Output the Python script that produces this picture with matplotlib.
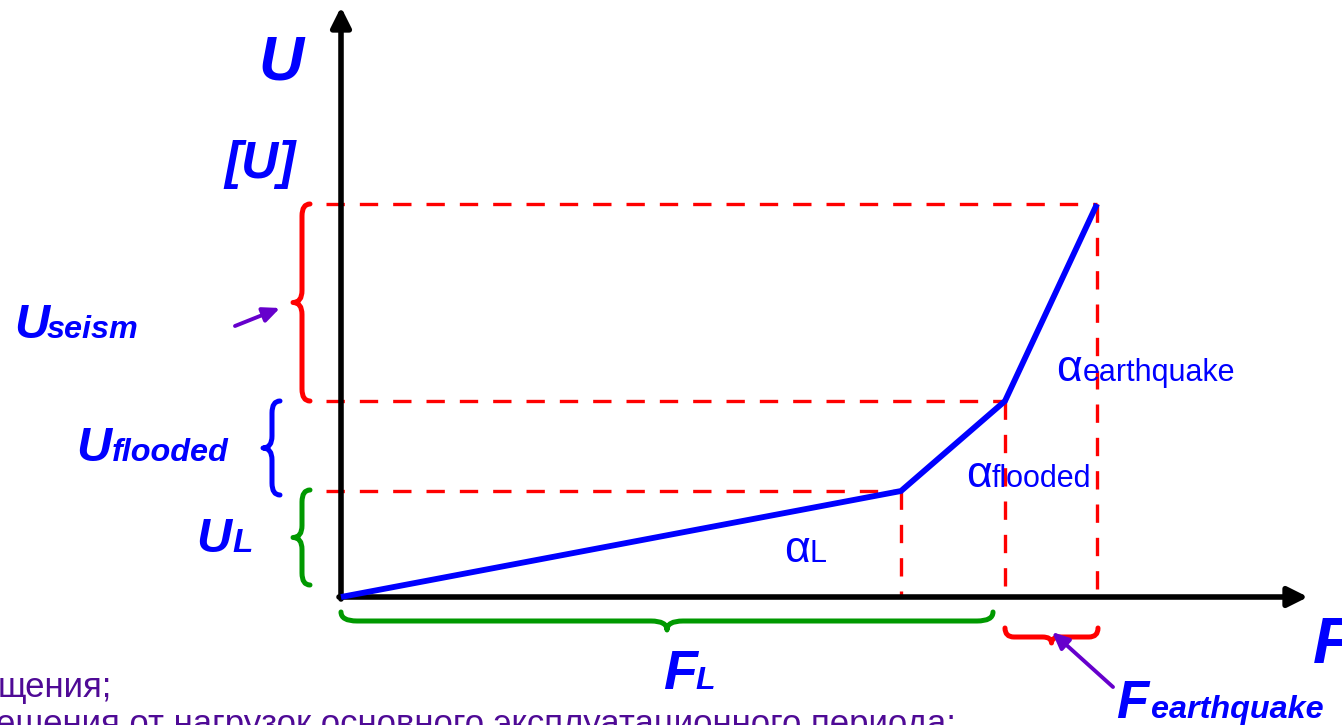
import matplotlib
matplotlib.use("Agg")
import matplotlib.pyplot as plt
from matplotlib.path import Path
from matplotlib.patches import PathPatch

# break points of the load-displacement line (F along x, U along y)
F_points = [0, 560, 664, 756]
U_points = [0, 106, 196, 393]
F_L, F_flooded, F_eq = F_points[1], F_points[2], F_points[3]
U_L, U_flooded, U_seism = U_points[1], U_points[2], U_points[3]

blue = "#0000FF"
red = "#FF0000"
green = "#009900"
purple = "#6600CC"
text_purple = "#4F0A96"
font = "Liberation Sans"

fig = plt.figure(figsize=(13.42, 7.25), dpi=100)
ax = fig.add_axes([0, 0, 1, 1])
ax.set_xlim(-341, 1001)
ax.set_ylim(-128, 597)
ax.axis("off")


def brace(x_end, x_body, x_tip, a, b, color, vertical=True, r=10):
    # curly brace from a to b, ends at x_end, spine at x_body, point at x_tip
    m = (a + b) / 2.0
    s = 1 if b > a else -1
    pts = [(x_end, a), (x_body, a), (x_body, a + s * r),
           (x_body, m - s * r), (x_body, m), (x_tip, m),
           (x_body, m), (x_body, m + s * r),
           (x_body, b - s * r), (x_body, b), (x_end, b)]
    codes = [Path.MOVETO, Path.CURVE3, Path.CURVE3,
             Path.LINETO, Path.CURVE3, Path.CURVE3,
             Path.CURVE3, Path.CURVE3,
             Path.LINETO, Path.CURVE3, Path.CURVE3]
    if not vertical:
        pts = [(p[1], p[0]) for p in pts]
    ax.add_patch(PathPatch(Path(pts, codes), fill=False, edgecolor=color,
                           lw=3.6, capstyle="round", joinstyle="round"))


# red dashed guide lines
dash = dict(color=red, lw=2.4, linestyle=(0, (5.5, 4.5)))
ax.plot([-15, F_eq], [U_seism, U_seism], **dash)
ax.plot([-15, F_flooded], [U_flooded, U_flooded], **dash)
ax.plot([-15, F_L], [U_L, U_L], **dash)
ax.plot([F_L, F_L], [U_L, 0], **dash)
ax.plot([F_flooded, F_flooded], [U_flooded, 0], **dash)
ax.plot([F_eq, F_eq], [U_seism, 8], **dash)

# axes with arrows
arr = dict(arrowstyle="-|>,head_length=1.2,head_width=0.6", color="black",
           lw=4, shrinkA=0, shrinkB=0, mutation_scale=10)
ax.annotate("", xy=(0, 590), xytext=(0, -2), arrowprops=arr)
ax.annotate("", xy=(967, 0), xytext=(-2, 0), arrowprops=arr)

# load-displacement line
ax.plot(F_points, U_points, color=blue, lw=4.2, solid_joinstyle="miter",
        solid_capstyle="butt", zorder=5)

# braces
brace(-31, -39, -48, U_seism, U_flooded, red, r=12)
brace(-61, -69, -78, U_flooded, U_L - 4, blue, r=12)
brace(-31, -39, -48, U_L + 1, 12, green, r=12)
brace(-15, -24, -33, 0, F_flooded - 12, green, vertical=False, r=16)
brace(-31, -40, -46, F_flooded, F_eq + 1, red, vertical=False, r=9)

# pointer arrows
parr = dict(arrowstyle="-|>,head_length=1.0,head_width=0.45", color=purple,
            lw=2.8, shrinkA=0, shrinkB=0, mutation_scale=10)
ax.annotate("", xy=(-61, 289), xytext=(-106, 271), arrowprops=parr)
ax.annotate("", xy=(F_flooded + 47, -35), xytext=(F_flooded + 108, -90),
            arrowprops=parr)


def label(px, py, main, sub, size, sub_size, sub_dx, bold=True):
    kw = dict(color=blue, family=font, ha="left", va="baseline")
    if bold:
        kw.update(weight="bold", style="italic")
    ax.text(px - 341, 597 - py, main, fontsize=size, **kw)
    if sub:
        ax.text(px - 341 + sub_dx, 597 - py, sub, fontsize=sub_size, **kw)


label(258, 79, "U", None, 45, 0, 0)
label(224, 178, "[U]", None, 37, 0, 0)
label(14, 338, "U", "seism", 35, 23.3, 33)
label(76, 461, "U", "flooded", 35, 23.3, 36)
label(196, 552, "U", "L", 35, 24, 36)
label(663, 689, "F", "L", 40, 23, 32)
label(1313, 663, "F", None, 47, 0, 0)
label(1116, 718, "F", "earthquake", 38, 23.3, 35)

label(784, 562, "α", "L", 32, 22, 25, bold=False)
label(966, 487, "α", "flooded", 32, 22, 26, bold=False)
label(1056, 381, "α", "earthquake", 32, 22, 27, bold=False)

# cut-off legend text
ax.text(-341 - 2, 597 - 697, "щения;", fontsize=25, family=font,
        color=text_purple, ha="left", va="baseline")
ax.text(-341 - 4, 597 - 734, "ешения от нагрузок основного эксплуатационного периода;",
        fontsize=25, family=font, color=text_purple, ha="left", va="baseline")

fig.savefig("out.png", dpi=100)
